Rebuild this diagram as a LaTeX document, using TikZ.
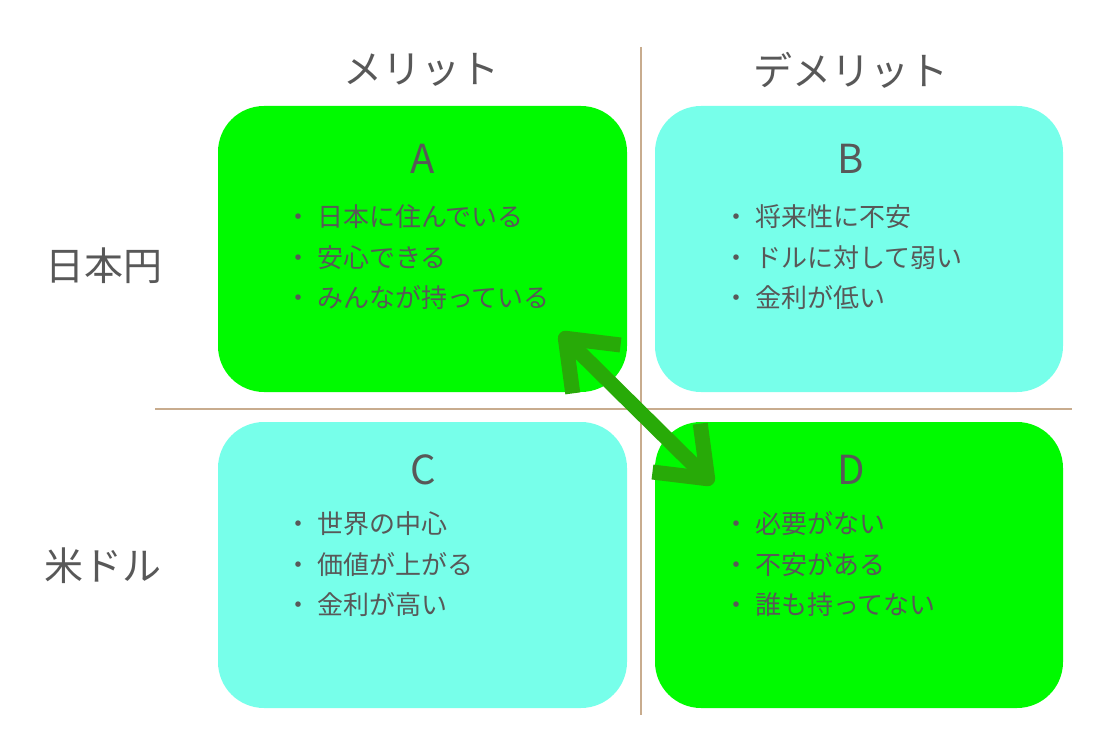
\documentclass[tikz,border=0pt]{standalone}
\usepackage{fontspec}
\setmainfont{Noto Sans CJK JP}
\usetikzlibrary{arrows.meta}
\definecolor{boxgreen}{RGB}{0,250,0}
\definecolor{boxcyan}{RGB}{119,255,234}
\definecolor{arrowgreen}{RGB}{40,170,8}
\definecolor{linetan}{RGB}{200,172,142}
\definecolor{txtgray}{RGB}{88,88,88}
\tikzset{
  quad/.style={rounded corners=46pt, draw=none},
  head/.style={text=txtgray, font=\fontsize{39}{39}\selectfont, inner sep=0pt},
  letter/.style={text=txtgray, font=\fontsize{40}{40}\selectfont, inner sep=0pt},
  item/.style={text=txtgray, font=\fontsize{26}{26}\selectfont, anchor=west, inner sep=0pt},
  divider/.style={draw=linetan, line width=1.3pt},
  barbtip/.tip={Straight Barb[length=44pt, width=68pt, line width=15pt, line cap=butt, line join=round]},
}
\newcommand{\bul}{・\kern6pt}
\begin{document}
\begin{tikzpicture}[x=1pt,y=-1pt]
\useasboundingbox (0,0) rectangle (1098,738);
% dividers
\coordinate (vt) at (641,47);
\coordinate (vb) at (641,715);
\coordinate (hl) at (155,409);
\coordinate (hr) at (1072,409);
\draw[divider] (vt) -- (vb);
\draw[divider] (hl) -- (hr);
% boxes
\fill[quad, boxgreen] (218,106) rectangle (627,392);
\fill[quad, boxcyan] (655,106) rectangle (1063,392);
\fill[quad, boxcyan] (218,422) rectangle (627,708);
\fill[quad, boxgreen] (655,422) rectangle (1063,708);
% headers
\node[head] (h1) at (421,70) {メリット};
\node[head] (h2) at (851,70) {デメリット};
\node[head] (r1) at (104,266) {日本円};
\node[head] (r2) at (103,566) {米ドル};
% letters
\node[letter] (la) at (423,159) {A};
\node[letter] (lb) at (851,159) {B};
\node[letter] (lc) at (423,470) {C};
\node[letter] (ld) at (851,470) {D};
% items A
\node[item] (a1) at (285,217) {\bul 日本に住んでいる};
\node[item] (a2) at (285,258) {\bul 安心できる};
\node[item] (a3) at (285,298) {\bul みんなが持っている};
% items B
\node[item] (b1) at (723,217) {\bul 将来性に不安};
\node[item] (b2) at (723,258) {\bul ドルに対して弱い};
\node[item] (b3) at (723,298) {\bul 金利が低い};
% items C
\node[item] (c1) at (285,524) {\bul 世界の中心};
\node[item] (c2) at (285,565) {\bul 価値が上がる};
\node[item] (c3) at (285,605) {\bul 金利が高い};
% items D
\node[item] (d1) at (723,524) {\bul 必要がない};
\node[item] (d2) at (723,565) {\bul 不安がある};
\node[item] (d3) at (723,605) {\bul 誰も持ってない};
% arrow
\coordinate (pa) at (560,333);
\coordinate (pd) at (713,484);
\draw[draw=arrowgreen, line width=15pt, barbtip-barbtip] (pa) -- (pd);
\end{tikzpicture}
\end{document}
